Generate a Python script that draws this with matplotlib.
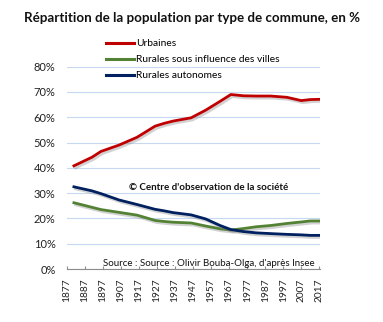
import matplotlib.pyplot as plt
import matplotlib.patheffects as pe
from matplotlib.ticker import FuncFormatter

plt.rcParams['font.family'] = ['Lato', 'DejaVu Sans']

# Census years and share of population (%) for each commune type
years = [1881, 1891, 1896, 1906, 1916, 1926, 1931, 1936, 1946, 1954,
         1962, 1968, 1975, 1982, 1990, 1999, 2007, 2012, 2017]
urbaines = [40.8, 44.2, 46.5, 49.0, 52.1, 56.5, 57.6, 58.5, 59.8, 62.8,
            66.3, 69.0, 68.5, 68.4, 68.4, 67.9, 66.6, 67.0, 67.1]
rurales_influence = [26.2, 24.4, 23.5, 22.4, 21.3, 19.2, 18.8, 18.5, 18.2, 17.0,
                     15.9, 15.4, 16.0, 16.7, 17.2, 18.0, 18.6, 19.0, 19.0]
rurales_autonomes = [32.5, 30.9, 29.8, 27.3, 25.5, 23.6, 23.0, 22.3, 21.4, 19.8,
                     17.2, 15.6, 14.8, 14.3, 14.0, 13.7, 13.5, 13.3, 13.3]
tick_years = list(range(1877, 2018, 10))

series = [
    ('Urbaines', urbaines, '#C00000'),
    ('Rurales sous influence des villes', rurales_influence, '#548235'),
    ('Rurales autonomes', rurales_autonomes, '#002060'),
]

fig = plt.figure(figsize=(3.83, 3.22), dpi=100)
ax = fig.add_axes([66.7 / 383, 1 - 269 / 322, (320.2 - 66.7) / 383, (269 - 66.7) / 322])

shadow = [pe.SimpleLineShadow(offset=(1.2, -1.5), shadow_color='gray', alpha=0.35), pe.Normal()]
for name, vals, color in series:
    ax.plot(years, vals, color=color, lw=2.0, label=name, path_effects=shadow,
            solid_joinstyle='round', zorder=3)

ax.set_xlim(1877, 2017.5)
ax.set_ylim(0, 80)
ax.set_yticks(range(0, 81, 10))
ax.yaxis.set_major_formatter(FuncFormatter(lambda v, p: f'{int(v)}%'))
ax.set_xticks(tick_years)
ax.set_xticklabels([str(y) for y in tick_years], rotation=90)

ax.grid(axis='y', color='#C6D9F0', lw=0.8)
ax.set_axisbelow(True)
for s in ['top', 'right', 'left']:
    ax.spines[s].set_visible(False)
ax.spines['bottom'].set_color('#8C8C8C')
ax.spines['bottom'].set_linewidth(0.8)
ax.tick_params(axis='y', length=0, pad=8, labelsize=8, labelcolor='#222222')
ax.tick_params(axis='x', direction='in', length=2.5, color='#8C8C8C', pad=7,
               labelsize=7.3, labelcolor='#222222')

fig.text(0.5, 1 - 18 / 322, 'Répartition de la population par type de commune, en %',
         ha='center', va='center', fontsize=9.6, fontweight='bold', color='#111111')

leg = fig.legend(loc='upper left', bbox_to_anchor=(106 / 383, 1 - 39 / 322), frameon=False,
                 fontsize=7.4, handlelength=2.7, handletextpad=0.2, labelspacing=0.66,
                 borderaxespad=0, borderpad=0)
for line in leg.get_lines():
    line.set_path_effects([])
    line.set_linewidth(2.2)

fig.text(209 / 383, 1 - 187 / 322, "© Centre d'observation de la société",
         ha='center', va='center', fontsize=7, fontweight='bold', color='#111111')
fig.text(209 / 383, 1 - 264 / 322, "Source : Source : Olivir Bouba-Olga, d'après Insee",
         ha='center', va='center', fontsize=7, color='#111111')

fig.savefig('out.png', dpi=100, facecolor='white')
